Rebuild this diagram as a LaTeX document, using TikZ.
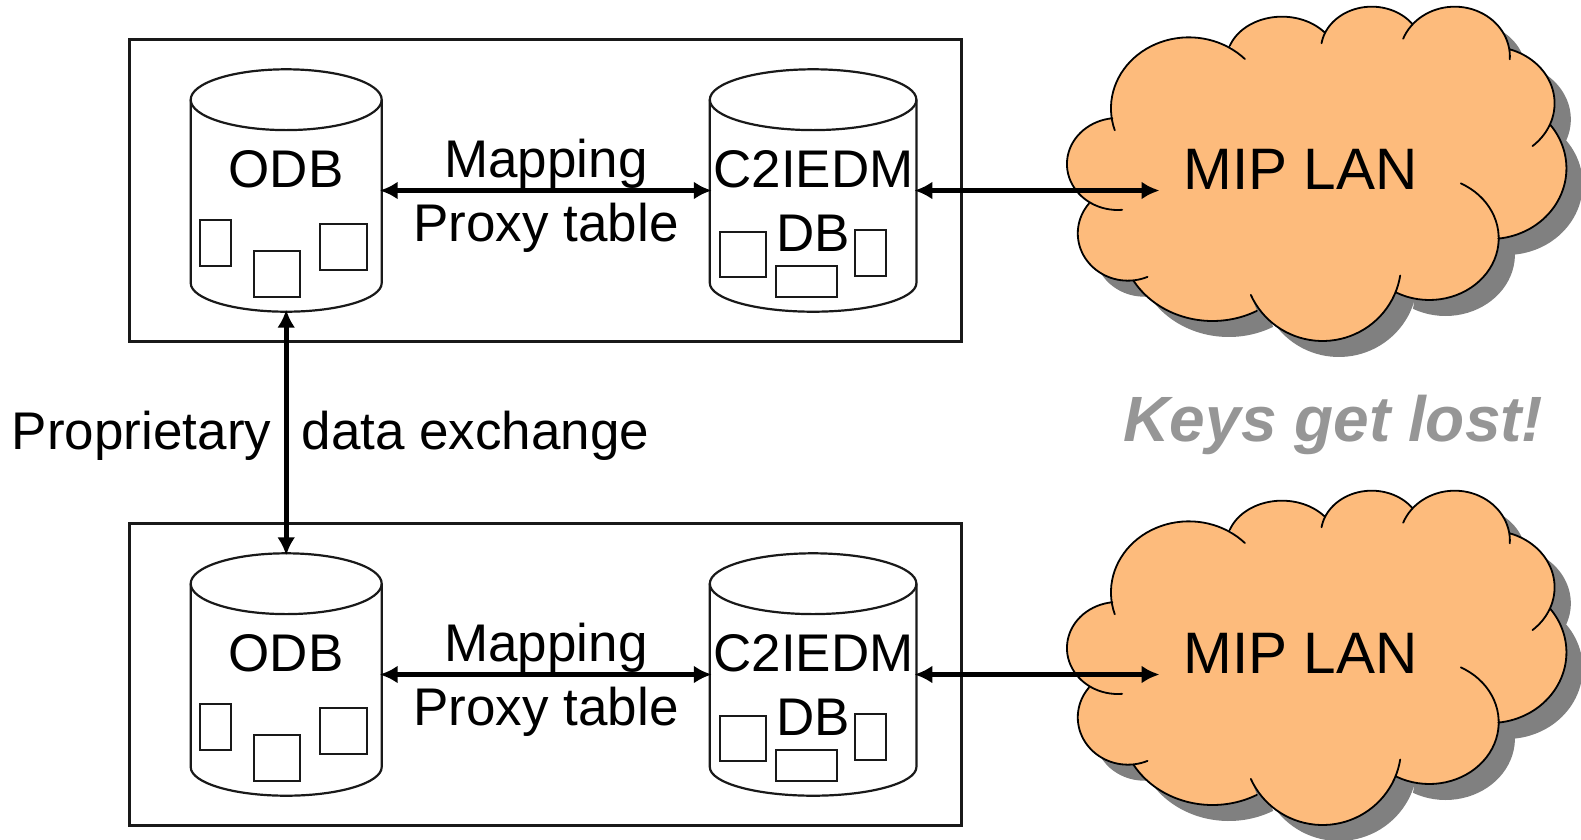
\documentclass[tikz,border=0pt]{standalone}
\usepackage{fontspec}
\setmainfont{Liberation Sans}
\usetikzlibrary{arrows.meta}
\definecolor{cloudfill}{HTML}{FDBB7C}
\definecolor{cloudshade}{HTML}{808080}
\definecolor{keysgray}{HTML}{969696}
\tikzset{
  x=1pt,y=-1pt,
  frame/.style={draw=black!90,line width=2.6pt},
  thing/.style={draw=black!90,line width=2.1pt,fill=white},
  dbline/.style={draw=black!90,line width=2.2pt},
  anchorbox/.style={inner sep=0pt,outer sep=0pt,minimum width=#1,minimum height=242.4pt},
  link/.style={line width=4.8pt,shorten <=-2pt,shorten >=-2pt,{Latex[length=18pt,width=18pt]}-{Latex[length=18pt,width=18pt]}},
  lab/.style={inner sep=0pt,outer sep=0pt,anchor=base,font=\fontsize{53}{53}\selectfont},
  lobe/.style={draw=black,line width=1.8pt,line cap=round},
}
\newcommand{\Lobes}[1]{
  plot[domain=162:316] ({410+230*cos(\x)},{325+213*sin(\x)}) #1
  plot[domain=199:321] ({685+163*cos(\x)},{180+130*sin(\x)}) #1
  plot[domain=189:323] ({950+150*cos(\x)},{150+130*sin(\x)}) #1
  plot[domain=201:363] ({1195+163*cos(\x)},{170+150*sin(\x)}) #1
  plot[domain=288:409] ({1300+190*cos(\x)},{310+170*sin(\x)}) #1
  plot[domain=322:444] ({1300+225*cos(\x)},{505+212*sin(\x)}) #1
  plot[domain=297:478] ({1120+205*cos(\x)},{715+185*sin(\x)}) #1
  plot[domain=9:156] ({805+232*cos(\x)},{790+233*sin(\x)}) #1
  plot[domain=61:150] ({480+270*cos(\x)},{720+243*sin(\x)}) #1
  plot[domain=67:219] ({230+148*cos(\x)},{700+142*sin(\x)}) #1
  plot[domain=85:264] ({200+150*cos(\x)},{492+138*sin(\x)})}
\newcommand{\drawcloud}[1]{%
  \begin{scope}[shift={(1050,#1)},x=0.33864pt,y=-0.33333pt,samples=40]
    \begin{scope}[shift={(48,48)}]
      \fill[cloudshade] \Lobes{--} -- cycle;
    \end{scope}
    \fill[cloudfill] \Lobes{--} -- cycle;
    \draw[lobe] \Lobes{};
  \end{scope}}
% #1 name, #2 left x, #3 right x, #4 y offset
\newcommand{\dbcyl}[4]{%
  \pgfmathsetmacro{\cxx}{(#2+#3)/2}
  \pgfmathsetmacro{\rxx}{(#3-#2)/2}
  \pgfmathsetmacro{\wdd}{#3-#2}
  \pgfmathsetmacro{\cyy}{190.5+#4}
  \pgfmathsetmacro{\tyy}{99.7+#4}
  \pgfmathsetmacro{\byy}{283+#4}
  \node[anchorbox=\wdd pt] (#1) at (\cxx,\cyy) {};
  \draw[dbline] (#2,\tyy) -- (#2,\byy) arc[start angle=180,end angle=360,x radius=\rxx,y radius=-28.7] -- (#3,\tyy);
  \draw[dbline] (\cxx,\tyy) ellipse[x radius=\rxx,y radius=30.4];
}
\newcommand{\panel}[2]{% #1 suffix, #2 y offset
  \node[inner sep=0pt,frame,minimum width=832pt,minimum height=302pt] (box#1) at (545.5,190.4+#2) {};
  \dbcyl{odb#1}{190.7}{381.7}{#2}
  \dbcyl{cdb#1}{709.8}{916.4}{#2}
  \node[lab] (odbt#1) at (286,187+#2) {ODB};
  \node[lab] (cdbt#1) at (813.5,187+#2) {C2IEDM};
  \node[lab] (dbt#1) at (813.5,251+#2) {DB};
  \node[lab] (map#1) at (546,177.2+#2) {Mapping};
  \node[lab] (prox#1) at (546,241+#2) {Proxy table};
  \draw[thing] (200,220+#2) rectangle (231,266+#2);
  \draw[thing] (254,250.7+#2) rectangle (300,296.7+#2);
  \draw[thing] (320.3,224+#2) rectangle (366.7,270+#2);
  \draw[thing] (720,232+#2) rectangle (766.4,277+#2);
  \draw[thing] (775.8,266+#2) rectangle (836.8,296.7+#2);
  \draw[thing] (854.6,229.7+#2) rectangle (886,276+#2);
  \drawcloud{#2}
  \coordinate (lan#1) at (1157.5,190.5+#2);
  \node[lab,font=\fontsize{58.5}{58.5}\selectfont] (lant#1) at (1300.5,189+#2) {MIP LAN};
  \draw[link] (odb#1.east) -- (cdb#1.west);
  \draw[link] (cdb#1.east) -- (lan#1);
}
\begin{document}
\begin{tikzpicture}
\useasboundingbox (0,0) rectangle (1581,839);
\panel{a}{0}
\panel{b}{484}
\draw[link] (odba.south) -- (odbb.north);
\node[lab,anchor=base west] (prop) at (12,449) {Proprietary\hspace{30.5pt}data exchange};
\node[lab,font=\fontsize{64}{64}\selectfont\bfseries\itshape,text=keysgray] (keys) at (1333.5,441.6) {Keys get lost!};
\end{tikzpicture}
\end{document}
